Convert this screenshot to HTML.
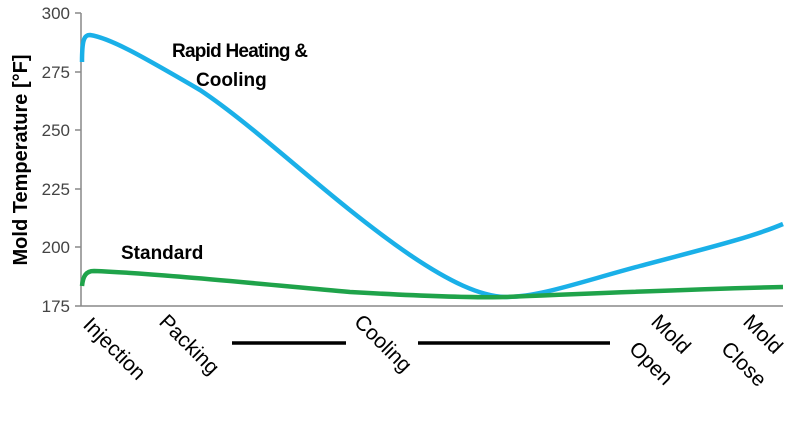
<!DOCTYPE html>
<html><head><style>
body{margin:0;background:#fff;width:800px;height:430px;overflow:hidden;font-family:"Liberation Sans",Calibri,sans-serif}
</style></head><body>
<svg width="800" height="430" xmlns="http://www.w3.org/2000/svg" style="font-family:'Liberation Sans',sans-serif">
<g stroke="#888" stroke-width="1.5" fill="none">
<line x1="81" y1="13" x2="81" y2="306"/>
<line x1="81" y1="306" x2="783" y2="306"/>
<line x1="75" y1="13" x2="81" y2="13"/>
<line x1="75" y1="72" x2="81" y2="72"/>
<line x1="75" y1="130" x2="81" y2="130"/>
<line x1="75" y1="189" x2="81" y2="189"/>
<line x1="75" y1="247" x2="81" y2="247"/>
<line x1="75" y1="306" x2="81" y2="306"/>
</g>
<g font-size="17" fill="#444" text-anchor="end">
<text x="70" y="19">300</text>
<text x="70" y="78">275</text>
<text x="70" y="136">250</text>
<text x="70" y="195">225</text>
<text x="70" y="253">200</text>
<text x="70" y="312">175</text>
</g>
<text transform="translate(27,160) rotate(-90)" text-anchor="middle" font-size="20" font-weight="bold" fill="#000">Mold Temperature [°F]</text>
<path d="M82,62 C82,40 84,35 90,35 C110,38 140,55 200,90 C260,130 330,200 410,255 C450,282 480,296 505,297 C540,297 580,282 640,266 C700,250 750,238 783,224" stroke="#1ab0e8" stroke-width="4.5" fill="none"/>
<path d="M82,286 C83,276 86,271 94,271 C150,273 250,283 350,292 C420,296 470,298 505,297 C600,293 700,289 783,287" stroke="#1fa34a" stroke-width="4.5" fill="none"/>
<g font-weight="bold" font-size="19" fill="#000">
<text x="172" y="57" textLength="136">Rapid Heating &amp;</text>
<text x="196" y="86">Cooling</text>
<text x="121" y="259">Standard</text>
</g>
<g font-size="21" fill="#000">
<text transform="translate(82,326) rotate(45)">Injection</text>
<text transform="translate(158,323) rotate(45)">Packing</text>
<text transform="translate(353,323) rotate(45)">Cooling</text>
<text transform="translate(650,323) rotate(45)">Mold</text>
<text transform="translate(628,350) rotate(45)">Open</text>
<text transform="translate(742,323) rotate(45)">Mold</text>
<text transform="translate(720,350) rotate(45)">Close</text>
</g>
<g stroke="#000" stroke-width="3.5">
<line x1="232" y1="343" x2="346" y2="343"/>
<line x1="418" y1="343" x2="610" y2="343"/>
</g>
</svg>
</body></html>
